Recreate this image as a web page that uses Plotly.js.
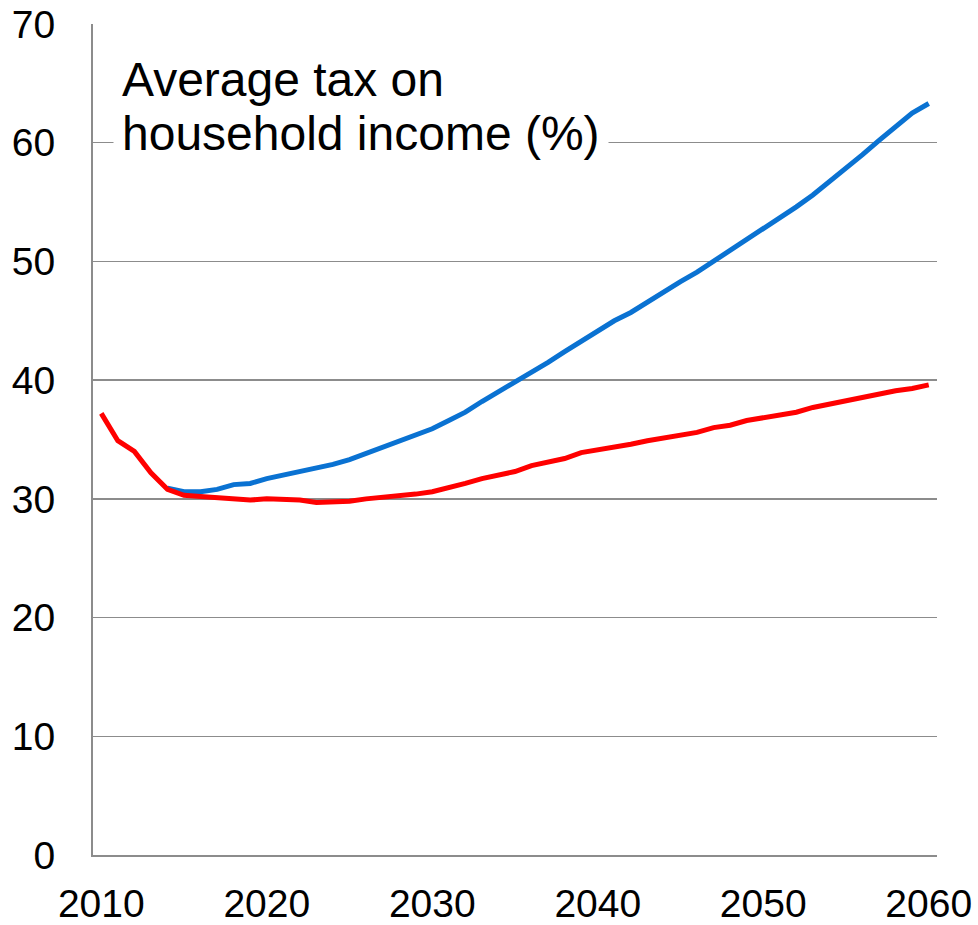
<!DOCTYPE html>
<html>
<head>
<meta charset="utf-8">
<script src="https://cdn.plot.ly/plotly-3.0.1.min.js"></script>
<style>html,body{margin:0;padding:0;background:#fff;}</style>
</head>
<body>
<div id="chart" style="width:978px;height:925px;"></div>
<script>
const years = [];
for (let y = 2010; y <= 2060; y++) years.push(y);

const redValues = [37.2, 34.9, 34.0, 32.2, 30.8, 30.3, 30.2, 30.1, 30.1, 29.9,
  30.0, 30.0, 29.9, 29.7, 29.7, 29.8, 30.0, 30.1, 30.2, 30.4,
  30.6, 30.9, 31.3, 31.7, 32.0, 32.3, 32.8, 33.1, 33.4, 33.9,
  34.1, 34.4, 34.6, 34.9, 35.1, 35.4, 35.6, 36.0, 36.2, 36.6,
  36.8, 37.1, 37.3, 37.7, 38.0, 38.2, 38.6, 38.8, 39.1, 39.3, 39.6];

const blueYears = years.slice(4);
const blueValues = [30.9, 30.6, 30.6, 30.8, 31.2, 31.3,
  31.7, 32.0, 32.3, 32.5, 32.9, 33.3, 33.8, 34.3, 34.8, 35.3,
  35.9, 36.6, 37.3, 38.2, 39.0, 39.8, 40.7, 41.5, 42.4, 43.3,
  44.1, 45.0, 45.7, 46.6, 47.4, 48.3, 49.1, 50.0, 50.9, 51.8,
  52.7, 53.7, 54.6, 55.6, 56.7, 57.8, 59.0, 60.2, 61.4, 62.5, 63.3];

const xTicks = [2010, 2020, 2030, 2040, 2050, 2060];
const yTicks = [0, 10, 20, 30, 40, 50, 60, 70];
const titleLine1 = 'Average tax on';
const titleLine2 = 'household income (%)';

const font = 'Liberation Sans, Arial, sans-serif';

const traces = [
  {x: blueYears, y: blueValues, type: 'scatter', mode: 'lines',
   line: {color: '#0A72D2', width: 5}, hoverinfo: 'skip'},
  {x: years, y: redValues, type: 'scatter', mode: 'lines',
   line: {color: '#FF0000', width: 5}, hoverinfo: 'skip'}
];

const layout = {
  width: 978, height: 925,
  margin: {l: 93, r: 41, t: 24, b: 70, pad: 0},
  paper_bgcolor: '#fff', plot_bgcolor: '#fff',
  showlegend: false,
  font: {family: font, color: '#000'},
  xaxis: {
    range: [2009.5, 2060.5],
    tickvals: xTicks, ticktext: xTicks.map(String),
    showgrid: false, zeroline: false,
    showline: true, linecolor: '#8c8c8c', linewidth: 2,
    ticks: '', ticklabelstandoff: 13,
    tickfont: {size: 39, family: font, color: '#000'}
  },
  yaxis: {
    range: [0, 70],
    tickvals: yTicks, ticktext: yTicks.map(String),
    showgrid: true, gridcolor: '#8c8c8c', gridwidth: 1.5,
    zeroline: false,
    showline: true, linecolor: '#8c8c8c', linewidth: 2,
    ticks: '', ticklabelstandoff: 28,
    tickfont: {size: 39, family: font, color: '#000'}
  },
  annotations: [
    {
      text: titleLine2, xref: 'paper', yref: 'paper',
      x: 0.0237, y: 0.9114, xanchor: 'left', yanchor: 'top', align: 'left',
      showarrow: false, bgcolor: '#fff', borderpad: 8,
      font: {size: 48, family: font, color: '#000'}
    },
    {
      text: titleLine1, xref: 'paper', yref: 'paper',
      x: 0.0237, y: 0.9764, xanchor: 'left', yanchor: 'top', align: 'left',
      showarrow: false, borderpad: 8,
      font: {size: 48, family: font, color: '#000'}
    }
  ]
};

Plotly.newPlot('chart', traces, layout, {staticPlot: true, displayModeBar: false});
</script>
</body>
</html>
